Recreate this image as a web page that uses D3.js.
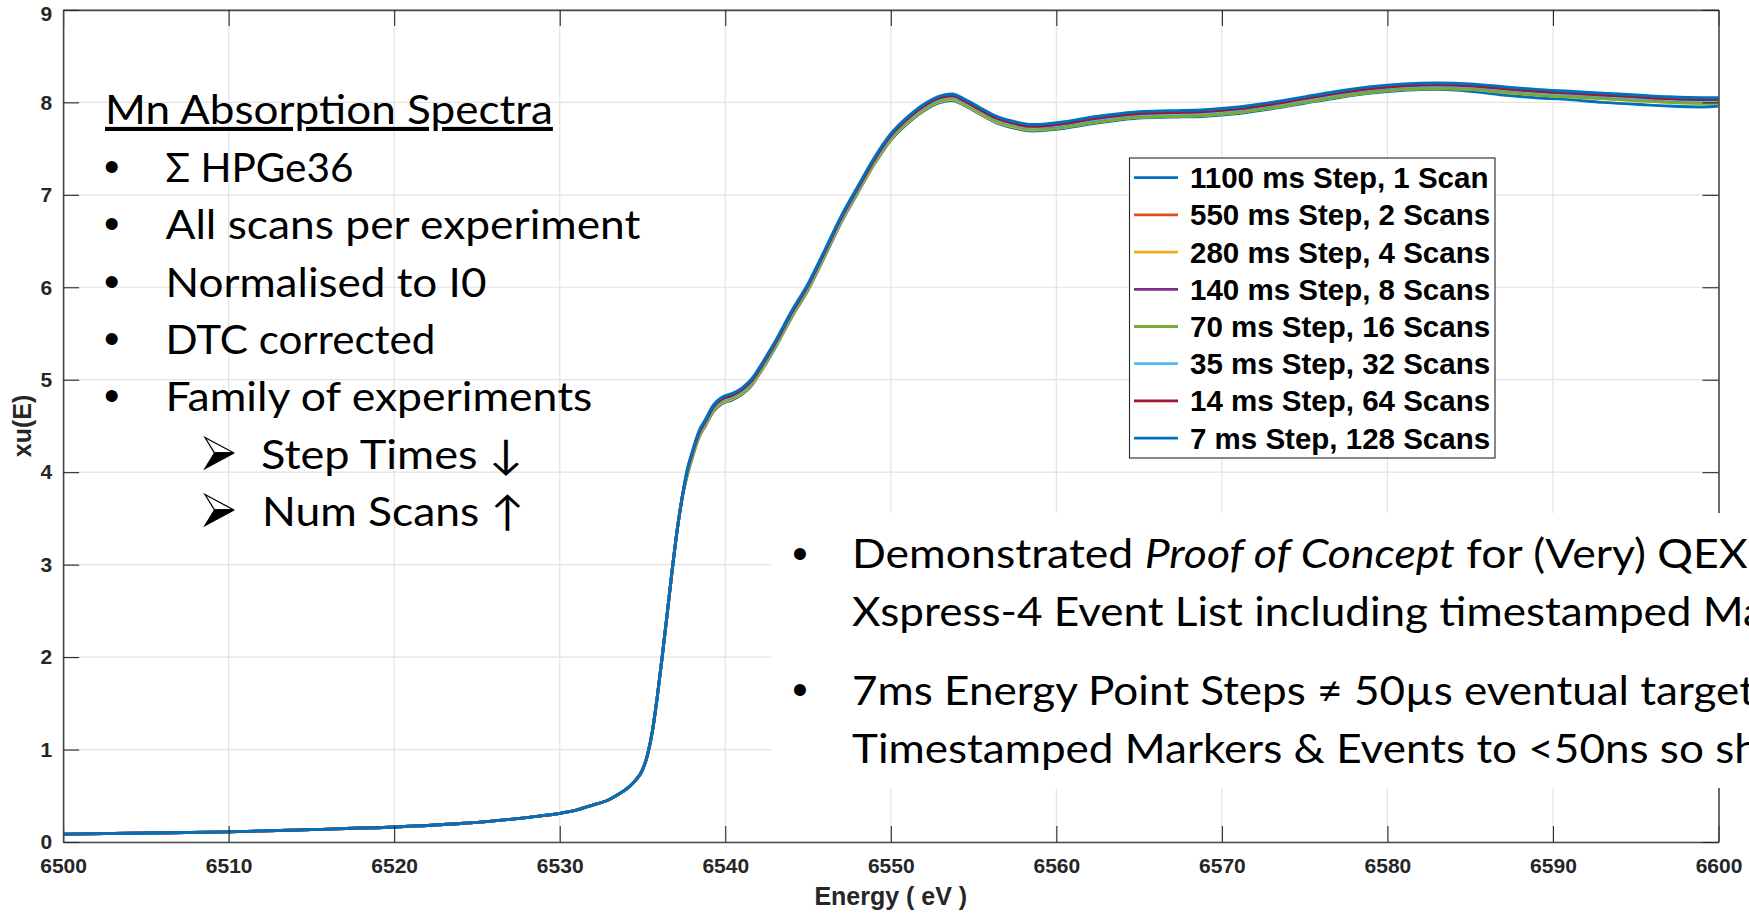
<!DOCTYPE html>
<html>
<head>
<meta charset="utf-8">
<script src="https://cdn.jsdelivr.net/npm/d3@7"></script>
<style>
html,body{margin:0;padding:0;background:#fff;overflow:hidden}
svg{display:block}
</style>
</head>
<body>
<svg id="chart" width="1749" height="913"></svg>
<script>
// ---------------- DATA ----------------
const energy = [6500, 6505, 6510, 6515, 6520, 6524, 6527, 6529, 6530, 6531,
  6532, 6533, 6533.5, 6534, 6534.5, 6535, 6535.3, 6535.6, 6535.9, 6536.2,
  6536.5, 6536.8, 6537.1, 6537.4, 6537.7, 6538, 6538.4, 6538.8, 6539.3, 6539.8,
  6540.4, 6541, 6541.6, 6542.3, 6543, 6544, 6545, 6546, 6547, 6548,
  6549, 6550, 6551, 6552, 6553, 6553.7, 6554.5, 6555.5, 6556.5, 6557.5,
  6558.5, 6559.5, 6560.5, 6561.5, 6563, 6565, 6567, 6569, 6571, 6573,
  6575, 6577, 6579, 6581, 6583, 6585, 6587, 6589, 6591, 6593,
  6595, 6597, 6599, 6600];

const xu_1100ms = [0.085, 0.097, 0.110, 0.135, 0.162, 0.200, 0.245, 0.285, 0.310, 0.345,
  0.400, 0.460, 0.510, 0.570, 0.650, 0.780, 0.940, 1.200, 1.580, 2.020,
  2.480, 2.950, 3.380, 3.730,
  3.96, 4.15, 4.37, 4.50, 4.66, 4.74, 4.78, 4.84, 4.94, 5.13,
  5.34, 5.67, 5.97, 6.33, 6.70, 7.02, 7.33, 7.59, 7.77, 7.91,
  8.00, 8.02, 7.96, 7.86, 7.77, 7.72, 7.69, 7.70, 7.72, 7.75,
  7.79, 7.83, 7.84, 7.85, 7.88, 7.93, 7.99, 8.05, 8.10, 8.13,
  8.14, 8.12, 8.08, 8.05, 8.03, 8.00, 7.98, 7.96, 7.95, 7.96];

const xu_550ms = [0.085, 0.097, 0.110, 0.135, 0.162, 0.200, 0.245, 0.285, 0.310, 0.345,
  0.400, 0.460, 0.510, 0.570, 0.650, 0.780, 0.940, 1.200, 1.580, 2.020,
  2.480, 2.950, 3.380, 3.730,
  3.98, 4.17, 4.39, 4.52, 4.68, 4.76, 4.80, 4.86, 4.96, 5.15,
  5.36, 5.69, 5.99, 6.35, 6.72, 7.04, 7.35, 7.61, 7.79, 7.93,
  8.02, 8.04, 7.98, 7.88, 7.79, 7.74, 7.71, 7.72, 7.74, 7.77,
  7.81, 7.85, 7.86, 7.87, 7.90, 7.95, 8.01, 8.07, 8.12, 8.15,
  8.16, 8.15, 8.12, 8.09, 8.07, 8.05, 8.03, 8.01, 8.00, 8.00];

const xu_280ms = [0.085, 0.097, 0.110, 0.135, 0.162, 0.200, 0.245, 0.285, 0.310, 0.345,
  0.400, 0.460, 0.510, 0.570, 0.650, 0.780, 0.940, 1.200, 1.580, 2.020,
  2.480, 2.950, 3.380, 3.730,
  3.97, 4.16, 4.38, 4.51, 4.67, 4.75, 4.79, 4.85, 4.95, 5.14,
  5.35, 5.68, 5.98, 6.34, 6.71, 7.03, 7.34, 7.60, 7.78, 7.92,
  8.01, 8.03, 7.97, 7.87, 7.78, 7.73, 7.70, 7.71, 7.73, 7.76,
  7.80, 7.84, 7.85, 7.86, 7.89, 7.94, 8.00, 8.06, 8.11, 8.14,
  8.15, 8.14, 8.11, 8.08, 8.06, 8.04, 8.02, 8.00, 7.99, 7.99];

const xu_140ms = [0.085, 0.097, 0.110, 0.135, 0.162, 0.200, 0.245, 0.285, 0.310, 0.345,
  0.400, 0.460, 0.510, 0.570, 0.650, 0.780, 0.940, 1.200, 1.580, 2.020,
  2.480, 2.950, 3.380, 3.730,
  3.99, 4.18, 4.40, 4.53, 4.69, 4.77, 4.81, 4.87, 4.97, 5.16,
  5.37, 5.70, 6.00, 6.36, 6.73, 7.05, 7.36, 7.62, 7.80, 7.94,
  8.03, 8.05, 7.99, 7.89, 7.80, 7.75, 7.72, 7.73, 7.75, 7.78,
  7.82, 7.86, 7.87, 7.88, 7.91, 7.96, 8.02, 8.08, 8.13, 8.16,
  8.17, 8.16, 8.13, 8.10, 8.08, 8.06, 8.04, 8.02, 8.01, 8.01];

const xu_70ms = [0.085, 0.097, 0.110, 0.135, 0.162, 0.200, 0.245, 0.285, 0.310, 0.345,
  0.400, 0.460, 0.510, 0.570, 0.650, 0.780, 0.940, 1.200, 1.580, 2.020,
  2.480, 2.950, 3.380, 3.730,
  3.98, 4.17, 4.39, 4.52, 4.68, 4.76, 4.80, 4.86, 4.96, 5.15,
  5.36, 5.69, 5.99, 6.35, 6.72, 7.04, 7.35, 7.61, 7.79, 7.93,
  8.02, 8.04, 7.98, 7.88, 7.79, 7.74, 7.71, 7.71, 7.73, 7.76,
  7.80, 7.84, 7.85, 7.86, 7.89, 7.94, 8.00, 8.06, 8.11, 8.14,
  8.15, 8.14, 8.11, 8.08, 8.06, 8.04, 8.02, 8.00, 7.99, 7.99];

const xu_35ms = [0.085, 0.097, 0.110, 0.135, 0.162, 0.200, 0.245, 0.285, 0.310, 0.345,
  0.400, 0.460, 0.510, 0.570, 0.650, 0.780, 0.940, 1.200, 1.580, 2.020,
  2.480, 2.950, 3.380, 3.730,
  4.00, 4.19, 4.41, 4.54, 4.70, 4.78, 4.82, 4.88, 4.98, 5.17,
  5.38, 5.71, 6.01, 6.37, 6.74, 7.06, 7.37, 7.63, 7.81, 7.95,
  8.04, 8.06, 8.00, 7.90, 7.81, 7.76, 7.73, 7.74, 7.76, 7.79,
  7.83, 7.87, 7.88, 7.89, 7.92, 7.97, 8.03, 8.09, 8.14, 8.17,
  8.18, 8.17, 8.14, 8.11, 8.09, 8.07, 8.05, 8.03, 8.02, 8.02];

const xu_14ms = [0.085, 0.097, 0.110, 0.135, 0.162, 0.200, 0.245, 0.285, 0.310, 0.345,
  0.400, 0.460, 0.510, 0.570, 0.650, 0.780, 0.940, 1.200, 1.580, 2.020,
  2.480, 2.950, 3.380, 3.730,
  4.01, 4.20, 4.42, 4.55, 4.71, 4.79, 4.83, 4.89, 4.99, 5.18,
  5.39, 5.72, 6.02, 6.38, 6.75, 7.07, 7.38, 7.64, 7.82, 7.96,
  8.05, 8.07, 8.01, 7.91, 7.82, 7.77, 7.74, 7.75, 7.77, 7.80,
  7.84, 7.88, 7.89, 7.90, 7.93, 7.98, 8.04, 8.10, 8.15, 8.18,
  8.19, 8.18, 8.15, 8.12, 8.10, 8.08, 8.06, 8.04, 8.03, 8.03];

const xu_7ms = [0.085, 0.097, 0.110, 0.135, 0.162, 0.200, 0.245, 0.285, 0.310, 0.345,
  0.400, 0.460, 0.510, 0.570, 0.650, 0.780, 0.940, 1.200, 1.580, 2.020,
  2.480, 2.950, 3.380, 3.730,
  4.03, 4.22, 4.44, 4.57, 4.73, 4.81, 4.85, 4.91, 5.01, 5.20,
  5.41, 5.74, 6.04, 6.40, 6.77, 7.09, 7.40, 7.66, 7.84, 7.98,
  8.07, 8.09, 8.03, 7.93, 7.84, 7.79, 7.76, 7.77, 7.79, 7.82,
  7.86, 7.90, 7.91, 7.92, 7.95, 8.00, 8.06, 8.12, 8.17, 8.20,
  8.21, 8.20, 8.17, 8.14, 8.12, 8.10, 8.08, 8.06, 8.05, 8.05];

const seriesNames = ["1100 ms Step, 1 Scan", "550 ms Step, 2 Scans", "280 ms Step, 4 Scans",
  "140 ms Step, 8 Scans", "70 ms Step, 16 Scans", "35 ms Step, 32 Scans",
  "14 ms Step, 64 Scans", "7 ms Step, 128 Scans"];
const seriesValues = [xu_1100ms, xu_550ms, xu_280ms, xu_140ms, xu_70ms, xu_35ms, xu_14ms, xu_7ms];
const seriesColors = ["#0072BD", "#D95319", "#EDB120", "#7E2F8E", "#77AC30", "#4DBEEE", "#A2142F", "#0072BD"];

const xTicks = [6500, 6510, 6520, 6530, 6540, 6550, 6560, 6570, 6580, 6590, 6600];
const yTicks = [0, 1, 2, 3, 4, 5, 6, 7, 8, 9];
const xLabel = "Energy ( eV )";
const yLabel = "xu(E)";

const leftNotes = ["Mn Absorption Spectra", "Σ HPGe36", "All scans per experiment",
  "Normalised to I0", "DTC corrected", "Family of experiments", "Step Times ↓", "Num Scans ↑"];
const bottomNotes = [
  [["Demonstrated ", false], ["Proof of Concept", true], [" for (Very) QEX", false]],
  [["Xspress-4 Event List including timestamped Ma", false]],
  [["7ms Energy Point Steps ≠ 50µs eventual target", false]],
  [["Timestamped Markers & Events to <50ns so sh", false]]
];

// ---------------- LAYOUT ----------------
const svg = d3.select("#chart");
const L = 63.1, R = 1718.5, T = 9.9, B = 842;
const x = d3.scaleLinear().domain([6500, 6600]).range([L, R]);
const y = d3.scaleLinear().domain([0, 9]).range([B, T]);
const axisFont = "'Liberation Sans', Arial, Helvetica, sans-serif";
const noteFont = "Lato, 'Open Sans', sans-serif";

// grid
const grid = svg.append("g");
grid.selectAll(".gx").data(xTicks).join("line")
  .attr("x1", d => x(d)).attr("x2", d => x(d)).attr("y1", T).attr("y2", B)
  .attr("stroke", "#e3e3e3").attr("stroke-width", 1.2);
grid.selectAll(".gy").data(yTicks).join("line")
  .attr("x1", L).attr("x2", R).attr("y1", d => y(d)).attr("y2", d => y(d))
  .attr("stroke", "#e3e3e3").attr("stroke-width", 1.2);

// curves
const line = d3.line().x((d, i) => x(energy[i])).y(d => y(d)).curve(d3.curveMonotoneX);
svg.append("g").selectAll("path").data(seriesValues).join("path")
  .attr("d", d => line(d))
  .attr("fill", "none")
  .attr("stroke", (d, i) => seriesColors[i])
  .attr("stroke-width", 2.9)
  .attr("stroke-linejoin", "round");

// axes
function styleAxis(g) {
  g.select(".domain").attr("stroke", "#4a4a4a").attr("stroke-width", 1.6);
  g.selectAll(".tick line").attr("stroke", "#262626").attr("stroke-width", 1.1);
  g.selectAll(".tick text").attr("fill", "#262626")
    .style("font-family", axisFont).style("font-weight", "bold").style("font-size", "21px");
}
svg.append("g").attr("transform", `translate(0,${B})`)
  .call(d3.axisBottom(x).tickValues(xTicks).tickSizeInner(-16).tickSizeOuter(0).tickPadding(16).tickFormat(d3.format("d")))
  .call(styleAxis);
svg.append("g").attr("transform", `translate(0,${T})`)
  .call(d3.axisTop(x).tickValues(xTicks).tickSizeInner(-16).tickSizeOuter(0).tickFormat(""))
  .call(styleAxis);
const yAxisG = svg.append("g").attr("transform", `translate(${L},0)`)
  .call(d3.axisLeft(y).tickValues(yTicks).tickSizeInner(-16).tickSizeOuter(0).tickPadding(11).tickFormat(d3.format("d")))
  .call(styleAxis);
// top label sits slightly lower so it stays inside the figure
yAxisG.selectAll(".tick text").filter(d => d === 9).attr("dy", "0.5em");
svg.append("g").attr("transform", `translate(${R},0)`)
  .call(d3.axisRight(y).tickValues(yTicks).tickSizeInner(-16).tickSizeOuter(0).tickFormat(""))
  .call(styleAxis);

// axis labels
svg.append("text").attr("x", (L + R) / 2).attr("y", 905).attr("text-anchor", "middle")
  .attr("fill", "#262626").style("font-family", axisFont).style("font-weight", "bold").style("font-size", "25px")
  .text(xLabel);
svg.append("text").attr("transform", `translate(31,${(T + B) / 2}) rotate(-90)`).attr("text-anchor", "middle")
  .attr("fill", "#262626").style("font-family", axisFont).style("font-weight", "bold").style("font-size", "25px")
  .text(yLabel);

// legend
const lg = svg.append("g");
const lgX = 1129.5, lgY = 158, lgW = 365.5, lgH = 300, rowH = 37.2, row0 = 177.7;
lg.append("rect").attr("x", lgX).attr("y", lgY).attr("width", lgW).attr("height", lgH)
  .attr("fill", "#fff").attr("stroke", "#262626").attr("stroke-width", 1.1);
seriesNames.forEach((name, i) => {
  const cy = row0 + i * rowH;
  lg.append("line").attr("x1", 1134).attr("x2", 1178).attr("y1", cy).attr("y2", cy)
    .attr("stroke", seriesColors[i]).attr("stroke-width", 2.8);
  lg.append("text").attr("x", 1190).attr("y", cy + 10.5)
    .attr("fill", "#000").style("font-family", axisFont).style("font-weight", "bold").style("font-size", "29.5px")
    .text(name);
});

// ---------------- SLIDE TEXT OVERLAYS ----------------
const notes = svg.append("g");
function bullet(cx, cy) {
  const b = notes.append("text").attr("x", 0).attr("y", 0).attr("text-anchor", "middle")
    .style("font-family", axisFont).style("font-size", "44px").attr("fill", "#000").text("•");
  const bb = b.node().getBBox();
  b.attr("transform", `translate(${cx},${cy - (bb.y + bb.height / 2)})`);
}
// 3-D arrowhead sub-bullet (upper half outlined, lower half solid)
function arrowHead(x0, x1, y0, y1) {
  const ym = (y0 + y1) / 2, xn = x0 + (x1 - x0) * 0.33;
  notes.append("path")
    .attr("d", `M${x0},${y0} L${x1},${ym} L${xn},${ym} Z`)
    .attr("fill", "#fff").attr("stroke", "#000").attr("stroke-width", 1.3).attr("stroke-linejoin", "miter");
  notes.append("path")
    .attr("d", `M${xn},${ym} L${x1},${ym} L${x0},${y1} Z`)
    .attr("fill", "#000").attr("stroke", "#000").attr("stroke-width", 1.3).attr("stroke-linejoin", "miter");
}
function noteLine(str, xl, yBase, targetW, underline) {
  const t = notes.append("text").attr("x", 0).attr("y", 0)
    .style("font-family", noteFont).style("font-size", "41px").attr("fill", "#000").text(str);
  if (underline) t.attr("text-decoration", "underline");
  const w = t.node().getComputedTextLength();
  t.attr("transform", `translate(${xl},${yBase}) scale(${targetW / w},1)`);
}
// left block
const leftBase = [124, 181.5, 239, 296.5, 354, 411, 468.5, 525.5];
const leftX = [105, 165.5, 165.5, 165.5, 165.5, 165.5, 261, 262];
const leftW = [448, 188, 475, 321, 270, 427, 262, 262];
leftNotes.forEach((s, i) => {
  noteLine(s, leftX[i], leftBase[i], leftW[i], i === 0);
  if (i >= 1 && i <= 5) bullet(111.7, leftBase[i] - 15.5);
  if (i >= 6) arrowHead(205, 234, leftBase[i] - 31, leftBase[i]);
});

// bottom-right text box (opaque, covers grid & right axis)
notes.append("rect").attr("x", 771).attr("y", 513).attr("width", 1749 - 771).attr("height", 788 - 513).attr("fill", "#fff");
const probe = notes.append("text").style("font-family", noteFont).style("font-size", "41px").text("Demonstrated");
const kb = 278 / probe.node().getComputedTextLength();
probe.remove();
const botBase = [568, 626, 705, 763];
bottomNotes.forEach((parts, i) => {
  const t = notes.append("text").attr("x", 0).attr("y", 0)
    .attr("transform", `translate(852,${botBase[i]}) scale(${kb * (i === 0 ? 1.012 : 1)},1)`)
    .style("font-family", noteFont).style("font-size", "41px").attr("fill", "#000");
  parts.forEach(p => {
    t.append("tspan").style("font-style", p[1] ? "italic" : "normal").text(p[0]);
  });
});
bullet(800, 553);
bullet(800, 689);
</script>
</body>
</html>
